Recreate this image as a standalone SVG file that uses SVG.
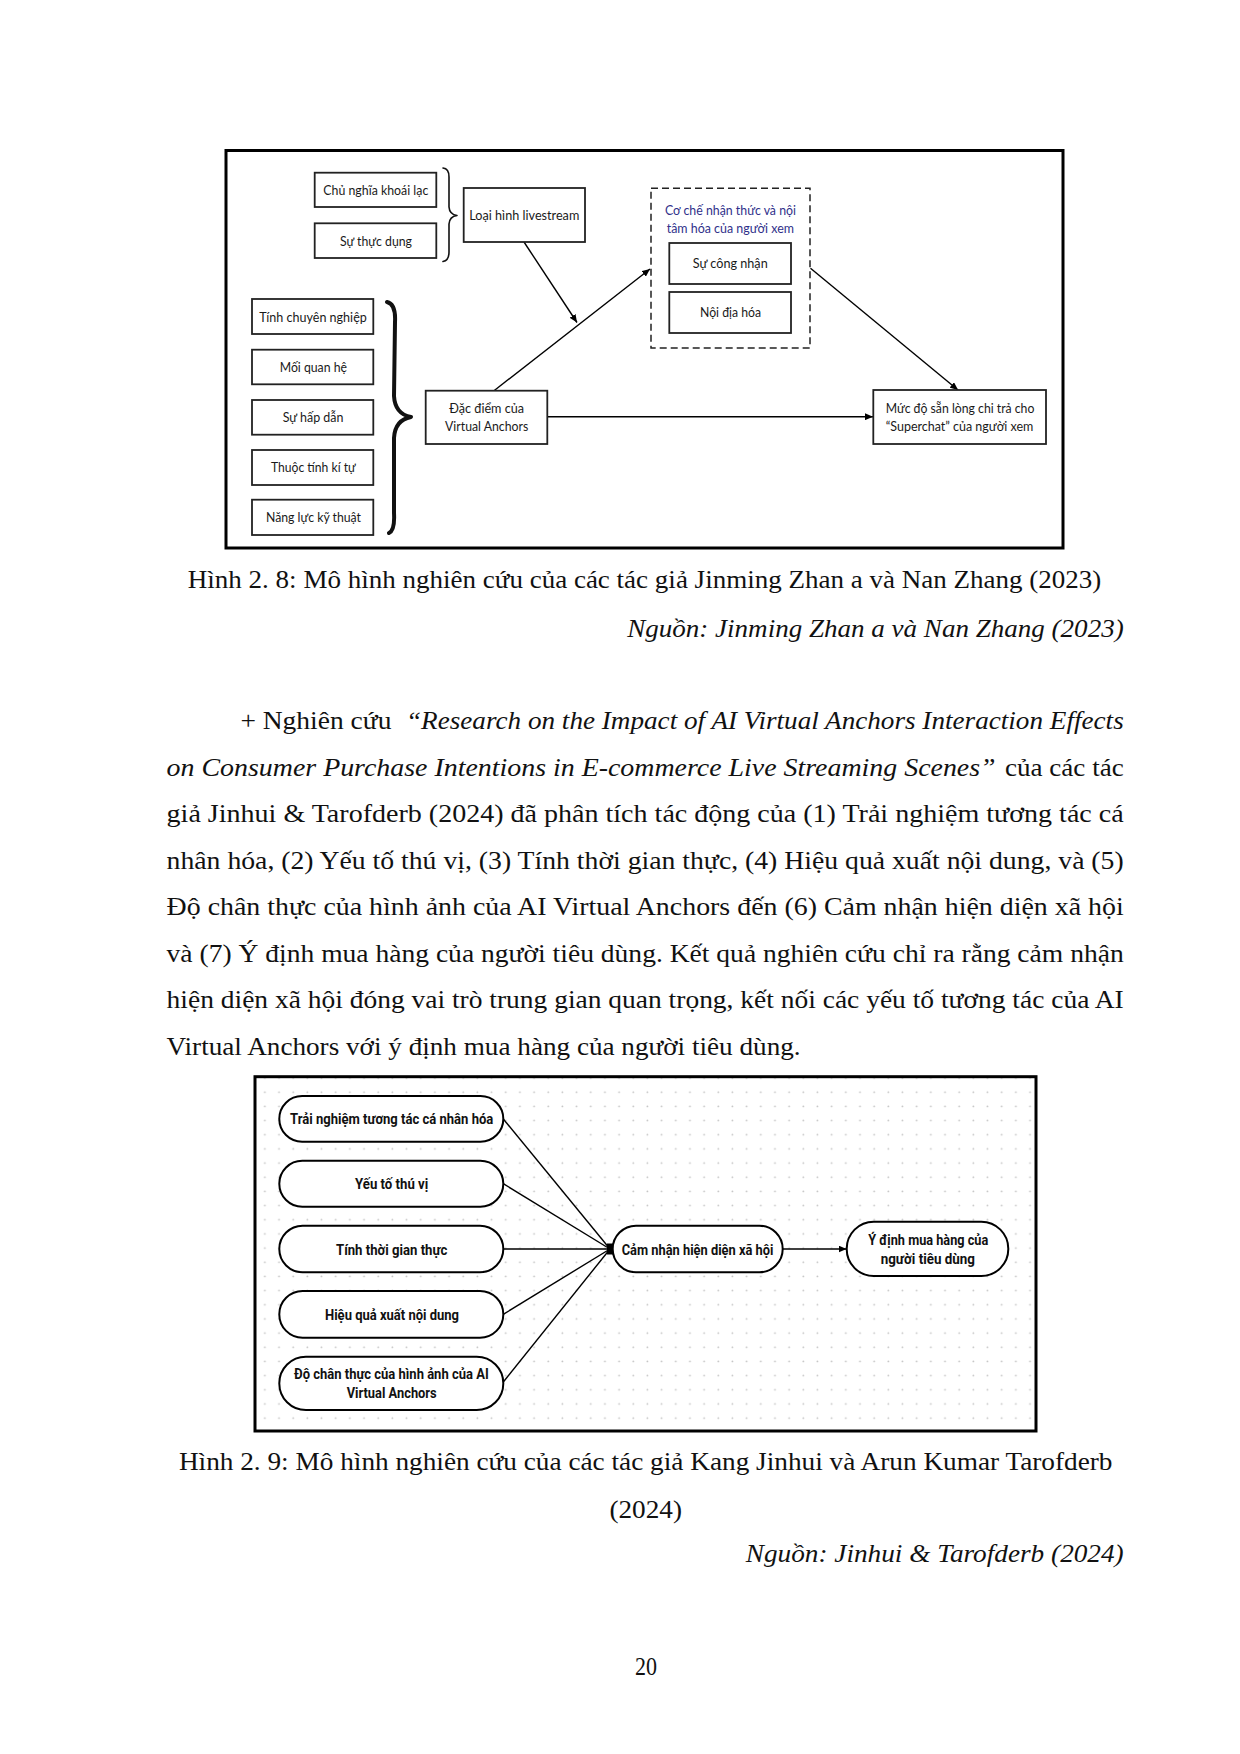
<svg xmlns="http://www.w3.org/2000/svg" width="1240" height="1754" viewBox="0 0 1240 1754">
<style>
.page{fill:#ffffff}
.frame{fill:none;stroke:#000;stroke-width:3}
.box{fill:#fff;stroke:#222;stroke-width:1.8}
.dash{fill:#fff;stroke:#222;stroke-width:1.5;stroke-dasharray:7 4}
.pill{fill:#fff;stroke:#000;stroke-width:2}
.con{fill:none;stroke:#000;stroke-width:1.4}
.brace{fill:none;stroke:#111;stroke-linejoin:round;stroke-linecap:round}
.d1{font-family:Lato,"Open Sans","Noto Sans",sans-serif;font-size:13px;fill:#1a1a1a}
.d1t{font-family:Lato,"Open Sans","Noto Sans",sans-serif;font-size:13px;fill:#30308a}
.d2{font-family:Roboto,"DejaVu Sans","Liberation Sans",sans-serif;font-size:15.5px;font-weight:bold;fill:#111}
.body{font-family:"Liberation Serif","Times New Roman",serif;font-size:26px;fill:#111}
.it{font-style:italic}
</style>
<defs>
<marker id="arr" viewBox="0 0 8 7" refX="8" refY="3.5" markerWidth="8" markerHeight="7" markerUnits="userSpaceOnUse" orient="auto">
<path d="M0,0 L8,3.5 L0,7 z" fill="#000"/>
</marker>
<pattern id="dots" patternUnits="userSpaceOnUse" x="853" y="1085.2" width="14.17" height="14.17">
<circle cx="7" cy="7" r="0.9" fill="#c4c4c4"/>
</pattern>
</defs>
<rect class="page" x="0" y="0" width="1240" height="1754"/>

<!-- ================= Figure 2.8 ================= -->
<g id="fig28">
<rect class="frame" x="226" y="150.5" width="837" height="397.5"/>
<g id="connectors-fig28">
<line class="con" x1="494" y1="390.7" x2="650" y2="269" marker-end="url(#arr)"/>
<line class="con" x1="524" y1="242" x2="577" y2="322.5" marker-end="url(#arr)"/>
<line class="con" x1="810.5" y1="268.3" x2="958" y2="390" marker-end="url(#arr)"/>
<line class="con" x1="547.3" y1="416.7" x2="873" y2="416.7" marker-end="url(#arr)"/>
</g>
<g id="brace-small"><path class="brace" stroke-width="1.6" d="M443,168 Q449,168.5 449,177 L449,207 Q449.5,214.5 457,215.5 Q449.5,216.5 449,224 L449,252 Q449,260.5 443,261.5"/></g>
<g id="brace-big"><path class="brace" stroke-width="4" d="M387,302 Q396,304 395,322 L394,396 Q395,414 411,417 Q395,420 394,438 L394,513 Q395,530 389,533"/></g>
<g id="n-khoailac"><rect class="box" x="314.7" y="172.7" width="121.6" height="34.3"/><text class="d1" x="323.3" y="194.5" textLength="105" lengthAdjust="spacingAndGlyphs">Chủ nghĩa khoái lạc</text></g>
<g id="n-thucdung"><rect class="box" x="314.7" y="223.3" width="121.6" height="34.7"/><text class="d1" x="340" y="245.5" textLength="72" lengthAdjust="spacingAndGlyphs">Sự thực dụng</text></g>
<g id="n-loaihinh"><rect class="box" x="463.7" y="188" width="121.3" height="54"/><text class="d1" x="469.3" y="220" textLength="110" lengthAdjust="spacingAndGlyphs">Loại hình livestream</text></g>
<g id="n-chuyennghiep"><rect class="box" x="252" y="299" width="121.3" height="35"/><text class="d1" x="259.3" y="321.5" textLength="107.5" lengthAdjust="spacingAndGlyphs">Tính chuyên nghiệp</text></g>
<g id="n-moiquanhe"><rect class="box" x="252" y="349.7" width="121.3" height="34.6"/><text class="d1" x="279.7" y="372" textLength="67.3" lengthAdjust="spacingAndGlyphs">Mối quan hệ</text></g>
<g id="n-hapdan"><rect class="box" x="252" y="400" width="121.3" height="34.7"/><text class="d1" x="282.7" y="422" textLength="60.7" lengthAdjust="spacingAndGlyphs">Sự hấp dẫn</text></g>
<g id="n-thuoctinh"><rect class="box" x="252" y="450" width="121.3" height="35"/><text class="d1" x="271" y="472" textLength="84.7" lengthAdjust="spacingAndGlyphs">Thuộc tính kí tự</text></g>
<g id="n-nangluc"><rect class="box" x="252" y="499.7" width="121.3" height="35.3"/><text class="d1" x="266" y="522" textLength="95" lengthAdjust="spacingAndGlyphs">Năng lực kỹ thuật</text></g>
<g id="n-dacdiem"><rect class="box" x="425.7" y="390.7" width="121.6" height="53.3"/><text class="d1" x="449.3" y="412.7" textLength="74.7" lengthAdjust="spacingAndGlyphs">Đặc điểm của</text><text class="d1" x="445" y="430.7" textLength="83.3" lengthAdjust="spacingAndGlyphs">Virtual Anchors</text></g>
<g id="n-coche"><rect class="dash" x="651" y="188.3" width="159" height="159.7"/><text class="d1t" x="665" y="215" textLength="131" lengthAdjust="spacingAndGlyphs">Cơ chế nhận thức và nội</text><text class="d1t" x="666.7" y="232.7" textLength="127.3" lengthAdjust="spacingAndGlyphs">tâm hóa của người xem</text>
<g id="n-congnhan"><rect class="box" x="669.3" y="243" width="121.7" height="41"/><text class="d1" x="692.7" y="268" textLength="75" lengthAdjust="spacingAndGlyphs">Sự công nhận</text></g>
<g id="n-noidiahoa"><rect class="box" x="669.3" y="292" width="121.7" height="41"/><text class="d1" x="700" y="317" textLength="61" lengthAdjust="spacingAndGlyphs">Nội địa hóa</text></g>
</g>
<g id="n-mucdo"><rect class="box" x="873.3" y="390" width="172.7" height="54"/><text class="d1" x="885.7" y="412.7" textLength="148.7" lengthAdjust="spacingAndGlyphs">Mức độ sẵn lòng chi trả cho</text><text class="d1" x="885.7" y="430.7" textLength="147.7" lengthAdjust="spacingAndGlyphs">“Superchat” của người xem</text></g>
</g>

<!-- captions / body -->
<g id="text-body">
<text class="body" x="187.8" y="588" textLength="913.5" lengthAdjust="spacingAndGlyphs">Hình 2. 8: Mô hình nghiên cứu của các tác giả Jinming Zhan a và Nan Zhang (2023)</text>
<text class="body it" x="627.2" y="637" textLength="496.5" lengthAdjust="spacingAndGlyphs">Nguồn: Jinming Zhan a và Nan Zhang (2023)</text>
<text class="body" x="240.4" y="729" textLength="151" lengthAdjust="spacingAndGlyphs">+ Nghiên cứu</text>
<text class="body it" x="406" y="729" textLength="717.7" lengthAdjust="spacingAndGlyphs">“Research on the Impact of AI Virtual Anchors Interaction Effects</text>
<text class="body it" x="166.6" y="775.5" textLength="829" lengthAdjust="spacingAndGlyphs">on Consumer Purchase Intentions in E-commerce Live Streaming Scenes”</text>
<text class="body" x="1005" y="775.5" textLength="118.7" lengthAdjust="spacingAndGlyphs">của các tác</text>
<text class="body" x="166.6" y="822" textLength="957.1" lengthAdjust="spacingAndGlyphs">giả Jinhui &amp; Tarofderb (2024) đã phân tích tác động của (1) Trải nghiệm tương tác cá</text>
<text class="body" x="166.6" y="868.5" textLength="957.1" lengthAdjust="spacingAndGlyphs">nhân hóa, (2) Yếu tố thú vị, (3) Tính thời gian thực, (4) Hiệu quả xuất nội dung, và (5)</text>
<text class="body" x="166.6" y="915" textLength="957.1" lengthAdjust="spacingAndGlyphs">Độ chân thực của hình ảnh của AI Virtual Anchors đến (6) Cảm nhận hiện diện xã hội</text>
<text class="body" x="166.6" y="961.7" textLength="957.1" lengthAdjust="spacingAndGlyphs">và (7) Ý định mua hàng của người tiêu dùng. Kết quả nghiên cứu chỉ ra rằng cảm nhận</text>
<text class="body" x="166.6" y="1008.3" textLength="957.1" lengthAdjust="spacingAndGlyphs">hiện diện xã hội đóng vai trò trung gian quan trọng, kết nối các yếu tố tương tác của AI</text>
<text class="body" x="166.6" y="1055" textLength="634" lengthAdjust="spacingAndGlyphs">Virtual Anchors với ý định mua hàng của người tiêu dùng.</text>
<text class="body" x="178.9" y="1470" textLength="933.6" lengthAdjust="spacingAndGlyphs">Hình 2. 9: Mô hình nghiên cứu của các tác giả Kang Jinhui và Arun Kumar Tarofderb</text>
<text class="body" x="609.4" y="1518" textLength="72.6" lengthAdjust="spacingAndGlyphs">(2024)</text>
<text class="body it" x="745.8" y="1562" textLength="377.9" lengthAdjust="spacingAndGlyphs">Nguồn: Jinhui &amp; Tarofderb (2024)</text>
<text class="body" x="635" y="1675" font-size="20" textLength="22" lengthAdjust="spacingAndGlyphs">20</text>
</g>

<!-- ================= Figure 2.9 ================= -->
<g id="fig29">
<rect x="255" y="1076.7" width="781" height="354.3" fill="url(#dots)"/>
<rect class="frame" x="255" y="1076.7" width="781" height="354.3"/>
<g id="connectors-fig29">
<line class="con" x1="503.3" y1="1119" x2="610" y2="1249"/>
<line class="con" x1="503.3" y1="1183.7" x2="610" y2="1249"/>
<line class="con" x1="503.3" y1="1249" x2="610" y2="1249"/>
<line class="con" x1="503.3" y1="1314.3" x2="610" y2="1249"/>
<line class="con" x1="503.3" y1="1382" x2="610" y2="1249"/>
<rect x="607" y="1243.5" width="6.5" height="11" fill="#000"/>
<line class="con" x1="782.7" y1="1249" x2="846.5" y2="1249" marker-end="url(#arr)"/>
</g>
<g id="p-trainghiem"><rect class="pill" x="279.3" y="1096" width="224" height="45.7" rx="22.8"/><text class="d2" x="290" y="1124" textLength="203.3" lengthAdjust="spacingAndGlyphs">Trải nghiệm tương tác cá nhân hóa</text></g>
<g id="p-thuvi"><rect class="pill" x="279.3" y="1160.7" width="224" height="46" rx="23"/><text class="d2" x="355" y="1189" textLength="73.3" lengthAdjust="spacingAndGlyphs">Yếu tố thú vị</text></g>
<g id="p-thoigian"><rect class="pill" x="279.3" y="1225.7" width="224" height="46.6" rx="23.3"/><text class="d2" x="336" y="1254.5" textLength="111.3" lengthAdjust="spacingAndGlyphs">Tính thời gian thực</text></g>
<g id="p-hieuqua"><rect class="pill" x="279.3" y="1291" width="224" height="46.7" rx="23.3"/><text class="d2" x="325" y="1320" textLength="134" lengthAdjust="spacingAndGlyphs">Hiệu quả xuất nội dung</text></g>
<g id="p-chanthuc"><rect class="pill" x="279.3" y="1356.7" width="224" height="53.3" rx="26.6"/><text class="d2" x="294" y="1379" textLength="194.7" lengthAdjust="spacingAndGlyphs">Độ chân thực của hình ảnh của AI</text><text class="d2" x="346.7" y="1398" textLength="90" lengthAdjust="spacingAndGlyphs">Virtual Anchors</text></g>
<g id="p-camnhan"><rect class="pill" x="612.7" y="1225.7" width="170" height="46.6" rx="23.3"/><text class="d2" x="621.7" y="1254.5" textLength="151.7" lengthAdjust="spacingAndGlyphs">Cảm nhận hiện diện xã hội</text></g>
<g id="p-ydinh"><rect class="pill" x="846.7" y="1221.7" width="161.6" height="54.3" rx="27"/><text class="d2" x="868.3" y="1244.5" textLength="120" lengthAdjust="spacingAndGlyphs">Ý định mua hàng của</text><text class="d2" x="880.7" y="1264" textLength="94.3" lengthAdjust="spacingAndGlyphs">người tiêu dùng</text></g>
</g>
</svg>
